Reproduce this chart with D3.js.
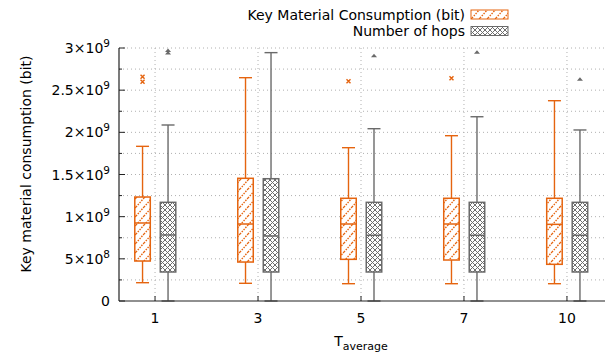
<!DOCTYPE html>
<html>
<head>
<meta charset="utf-8">
<script src="https://cdn.jsdelivr.net/npm/d3@7"></script>
<style>
  body { margin: 0; background: #fff; }
  svg text { font-family: "DejaVu Sans", sans-serif; fill: #000; }
</style>
</head>
<body>
<svg id="chart" width="605" height="355"></svg>
<script>
// ---- data ----
var categories = ["1", "3", "5", "7", "10"];

// Key Material Consumption (bit)
var keyLow  = [0.217e9, 0.210e9, 0.205e9, 0.205e9, 0.205e9];
var keyQ1   = [0.474e9, 0.462e9, 0.494e9, 0.486e9, 0.435e9];
var keyMed  = [0.925e9, 0.913e9, 0.913e9, 0.913e9, 0.909e9];
var keyQ3   = [1.233e9, 1.455e9, 1.218e9, 1.218e9, 1.218e9];
var keyHigh = [1.834e9, 2.648e9, 1.818e9, 1.960e9, 2.375e9];
var keyOut  = [[2.66e9, 2.60e9], [], [2.605e9], [2.64e9], []];

// Number of hops
var hopLow  = [0, 0, 0, 0, 0];
var hopQ1   = [0.344e9, 0.344e9, 0.344e9, 0.344e9, 0.344e9];
var hopMed  = [0.783e9, 0.771e9, 0.779e9, 0.779e9, 0.779e9];
var hopQ3   = [1.170e9, 1.450e9, 1.170e9, 1.170e9, 1.170e9];
var hopHigh = [2.087e9, 2.945e9, 2.043e9, 2.185e9, 2.028e9];
var hopOut  = [[2.970e9, 2.941e9], [], [2.909e9], [2.949e9], [2.629e9]];

var yTicks = [0, 5e8, 1e9, 1.5e9, 2e9, 2.5e9, 3e9];
var seriesNames = ["Key Material Consumption (bit)", "Number of hops"];

var orange = "#e5640f", grey = "#6a6a6a";

// ---- setup ----
var svg = d3.select("#chart");
var pLeft = 119, pRight = 603, pTop = 48, pBottom = 301;

var x = d3.scalePoint().domain(categories).range([pLeft, pRight]).padding(0.35);
var y = d3.scaleLinear().domain([0, 3e9]).range([pBottom, pTop]);

var boxW = 15.5, capW = 13;

var defs = svg.append("defs");
var hatch = defs.append("pattern")
  .attr("id", "hatch").attr("patternUnits", "userSpaceOnUse")
  .attr("width", 8).attr("height", 9);
hatch.append("path").attr("d", "M0,9 L8,0 M-2,2.25 L2,-2.25 M6,11.25 L10,6.75")
  .attr("stroke", orange).attr("stroke-width", 1.4)
  .attr("stroke-dasharray", "1.5,1.2");

var cross = defs.append("pattern")
  .attr("id", "cross").attr("patternUnits", "userSpaceOnUse")
  .attr("width", 5).attr("height", 5);
cross.append("path").attr("d", "M0,0 L5,5 M5,0 L0,5")
  .attr("stroke", "#6e6e6e").attr("stroke-width", 1);

// ---- grid ----
var minorTicks = d3.range(0, 3e9 + 1, 2.5e8);
svg.append("g").selectAll("line")
  .data(minorTicks.filter(function(d) { return d > 0; }))
  .enter().append("line")
  .attr("x1", pLeft).attr("x2", 605)
  .attr("y1", function(d) { return y(d); })
  .attr("y2", function(d) { return y(d); })
  .attr("stroke", "#b0b0b0").attr("stroke-width", 1)
  .attr("stroke-dasharray", "1,3");

svg.append("g").selectAll("line")
  .data(categories)
  .enter().append("line")
  .attr("x1", function(d) { return x(d); })
  .attr("x2", function(d) { return x(d); })
  .attr("y1", pTop).attr("y2", pBottom)
  .attr("stroke", "#b0b0b0").attr("stroke-width", 1)
  .attr("stroke-dasharray", "1,3");

// ---- boxes ----
function drawSeries(lo, q1, med, q3, hi, outs, offset, color, fill, marker) {
  var g = svg.append("g");
  categories.forEach(function(c, i) {
    var cx = x(c) + offset;
    // whiskers
    g.append("line").attr("x1", cx).attr("x2", cx)
      .attr("y1", y(q3[i])).attr("y2", y(hi[i]))
      .attr("stroke", color).attr("stroke-width", 1.4);
    g.append("line").attr("x1", cx).attr("x2", cx)
      .attr("y1", y(q1[i])).attr("y2", y(lo[i]))
      .attr("stroke", color).attr("stroke-width", 1.4);
    g.append("line").attr("x1", cx - capW / 2).attr("x2", cx + capW / 2)
      .attr("y1", y(hi[i])).attr("y2", y(hi[i]))
      .attr("stroke", color).attr("stroke-width", 1.4);
    g.append("line").attr("x1", cx - capW / 2).attr("x2", cx + capW / 2)
      .attr("y1", y(lo[i])).attr("y2", y(lo[i]))
      .attr("stroke", color).attr("stroke-width", 1.4);
    // box
    g.append("rect").attr("x", cx - boxW / 2).attr("width", boxW)
      .attr("y", y(q3[i])).attr("height", y(q1[i]) - y(q3[i]))
      .attr("fill", "#fff");
    g.append("rect").attr("x", cx - boxW / 2).attr("width", boxW)
      .attr("y", y(q3[i])).attr("height", y(q1[i]) - y(q3[i]))
      .attr("fill", fill).attr("stroke", color).attr("stroke-width", 1.5);
    g.append("line").attr("x1", cx - boxW / 2).attr("x2", cx + boxW / 2)
      .attr("y1", y(med[i])).attr("y2", y(med[i]))
      .attr("stroke", color).attr("stroke-width", 1.5);
    // outliers
    outs[i].forEach(function(v) {
      var py = y(v);
      if (marker == "x") {
        g.append("path")
          .attr("d", "M" + (cx - 2) + "," + (py - 2) + "L" + (cx + 2) + "," + (py + 2) +
                     "M" + (cx + 2) + "," + (py - 2) + "L" + (cx - 2) + "," + (py + 2))
          .attr("stroke", color).attr("stroke-width", 1.4);
      } else {
        g.append("path")
          .attr("d", "M" + (cx - 3) + "," + (py + 1.5) + "L" + (cx + 3) + "," + (py + 1.5) +
                     "L" + cx + "," + (py - 2) + "Z")
          .attr("fill", color);
      }
    });
  });
}

drawSeries(keyLow, keyQ1, keyMed, keyQ3, keyHigh, keyOut, -12.5, orange, "url(#hatch)", "x");
drawSeries(hopLow, hopQ1, hopMed, hopQ3, hopHigh, hopOut, 13, grey, "url(#cross)", "tri");

// ---- axes ----
var axisG = svg.append("g");
axisG.append("line").attr("x1", pLeft).attr("x2", pLeft).attr("y1", pTop).attr("y2", pBottom)
  .attr("stroke", "#222").attr("stroke-width", 1.2);
axisG.append("line").attr("x1", pLeft).attr("x2", 605).attr("y1", pBottom).attr("y2", pBottom)
  .attr("stroke", "#222").attr("stroke-width", 1.2);

// y ticks (major + minor)
axisG.selectAll(".ymin").data(minorTicks).enter().append("line")
  .attr("x1", pLeft).attr("x2", function(d, i) { return pLeft + (i % 2 == 0 ? 6 : 3); })
  .attr("y1", function(d) { return y(d); }).attr("y2", function(d) { return y(d); })
  .attr("stroke", "#222").attr("stroke-width", 1);

// x ticks
axisG.selectAll(".xt").data(categories).enter().append("line")
  .attr("x1", function(d) { return x(d); }).attr("x2", function(d) { return x(d); })
  .attr("y1", pBottom).attr("y2", pBottom - 5)
  .attr("stroke", "#222").attr("stroke-width", 1);

function sciLabel(sel, v) {
  if (v == 0) { sel.text("0"); return; }
  var e = Math.floor(Math.log10(v));
  var m = v / Math.pow(10, e);
  sel.append("tspan").text(d3.format("~g")(m) + "×10");
  sel.append("tspan").attr("dy", -6).attr("font-size", 10.5).text(e);
}

axisG.selectAll(".ylab").data(yTicks).enter().append("text")
  .attr("x", 110).attr("y", function(d) { return y(d) + 5; })
  .attr("text-anchor", "end").attr("font-size", 14)
  .each(function(d) { sciLabel(d3.select(this), d); });

axisG.selectAll(".xlab").data(categories).enter().append("text")
  .attr("x", function(d) { return x(d); }).attr("y", 323)
  .attr("text-anchor", "middle").attr("font-size", 14)
  .text(function(d) { return d; });

// axis titles
svg.append("text")
  .attr("transform", "translate(31,164) rotate(-90)")
  .attr("text-anchor", "middle").attr("font-size", 14)
  .text("Key material consumption (bit)");

var xt = svg.append("text").attr("x", 361).attr("y", 346)
  .attr("text-anchor", "middle").attr("font-size", 14);
xt.append("tspan").text("T");
xt.append("tspan").attr("dy", 4).attr("font-size", 11).text("average");

// ---- legend ----
var legend = svg.append("g");
var legFill = ["url(#hatch)", "url(#cross)"];
var legColor = [orange, grey];
seriesNames.forEach(function(name, i) {
  var ly = 14.5 + i * 16.5;
  legend.append("text").attr("x", 465).attr("y", ly + 5)
    .attr("text-anchor", "end").attr("font-size", 14).text(name);
  legend.append("rect").attr("x", 471).attr("y", ly - 4.5)
    .attr("width", 37).attr("height", 9)
    .attr("fill", legFill[i]).attr("stroke", legColor[i]).attr("stroke-width", 1);
});
</script>
</body>
</html>
